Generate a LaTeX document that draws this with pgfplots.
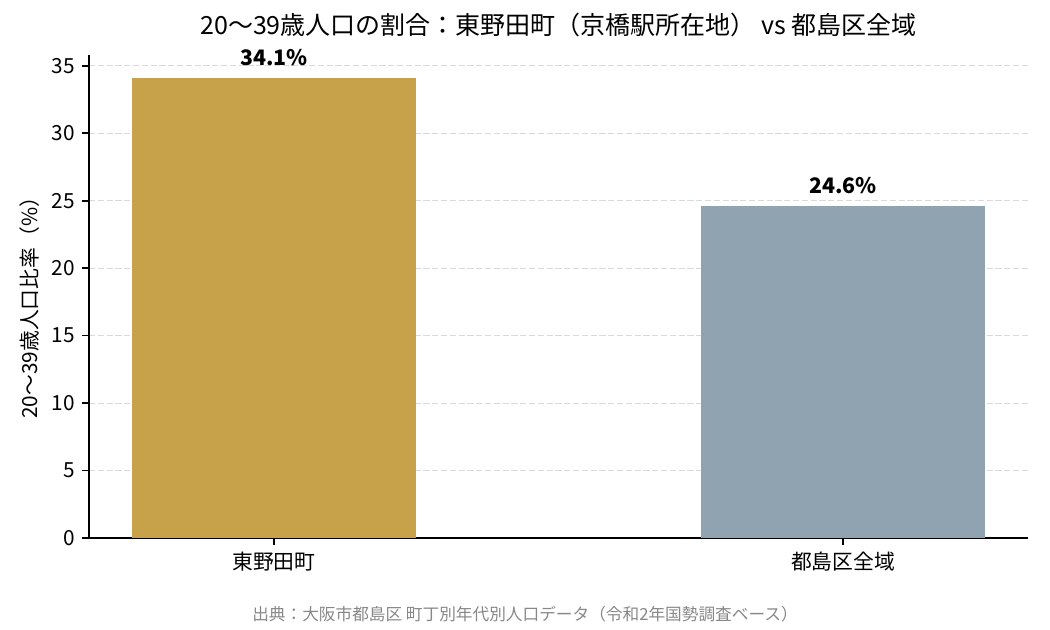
\documentclass[border=0pt]{standalone}
\usepackage{fontspec}
\setmainfont{Noto Sans CJK JP}
\usepackage{pgfplots}
\pgfplotsset{compat=1.18}
\definecolor{goldbar}{HTML}{C8A24A}
\definecolor{graybar}{HTML}{8FA4B0}
\definecolor{gridc}{HTML}{DADADA}
\definecolor{footc}{HTML}{888888}
\begin{document}
\begin{tikzpicture}
\path[use as bounding box] (0,0) rectangle (787.5pt,472.5pt);
\begin{axis}[
  at={(66.75pt,69pt)}, anchor=south west,
  width=704.25pt, height=362.25pt, scale only axis,
  xmin=-0.325, xmax=1.325, ymin=0, ymax=35.805,
  axis lines=left, axis line style={-, line width=1.2pt, black},
  tick align=outside, major tick length=5.25pt,
  tick style={black, line width=1.2pt},
  xtick={0,1}, xticklabels={東野田町,都島区全域},
  ytick={0,5,...,35},
  /pgf/number format/assume math mode=true,
  ticklabel style={font=\fontsize{15.6}{18}\selectfont},
  xticklabel style={anchor=base, inner sep=0pt, yshift=-18.4pt},
  yticklabel style={anchor=east, inner sep=0pt, xshift=-5.25pt},
  ymajorgrids, grid style={gridc, line width=0.75pt, dash pattern=on 4.6pt off 2pt},
  title={20～39歳人口の割合：東野田町（京橋駅所在地） vs 都島区全域},
  title style={at={(0.5,1)}, anchor=base, yshift=9pt, inner sep=0pt, font=\fontsize{18.75}{22}\selectfont},
  ylabel={20～39歳人口比率（\%）},
  ylabel style={at={(axis description cs:-0.0628,0.487)}, anchor=center, inner sep=0pt, font=\fontsize{15.6}{18}\selectfont},
  nodes near coords={\pgfmathprintnumber[fixed,precision=1,fixed zerofill]{\pgfplotspointmeta}\%},
  every node near coord/.append style={anchor=base, inner sep=0pt, yshift=9.5pt, font=\fontsize{16}{19}\selectfont\bfseries, text=black},
]
\addplot[ybar, bar width=0.5, bar shift=0pt, fill=goldbar, draw=none] coordinates {(0,34.1)};
\addplot[ybar, bar width=0.5, bar shift=0pt, fill=graybar, draw=none] coordinates {(1,24.6)};
\end{axis}
\node[anchor=base, inner sep=0pt, font=\fontsize{12.5}{15}\selectfont, text=footc] at (393.75pt,6.75pt) {出典：大阪市都島区 町丁別年代別人口データ（令和2年国勢調査ベース）};
\end{tikzpicture}
\end{document}
